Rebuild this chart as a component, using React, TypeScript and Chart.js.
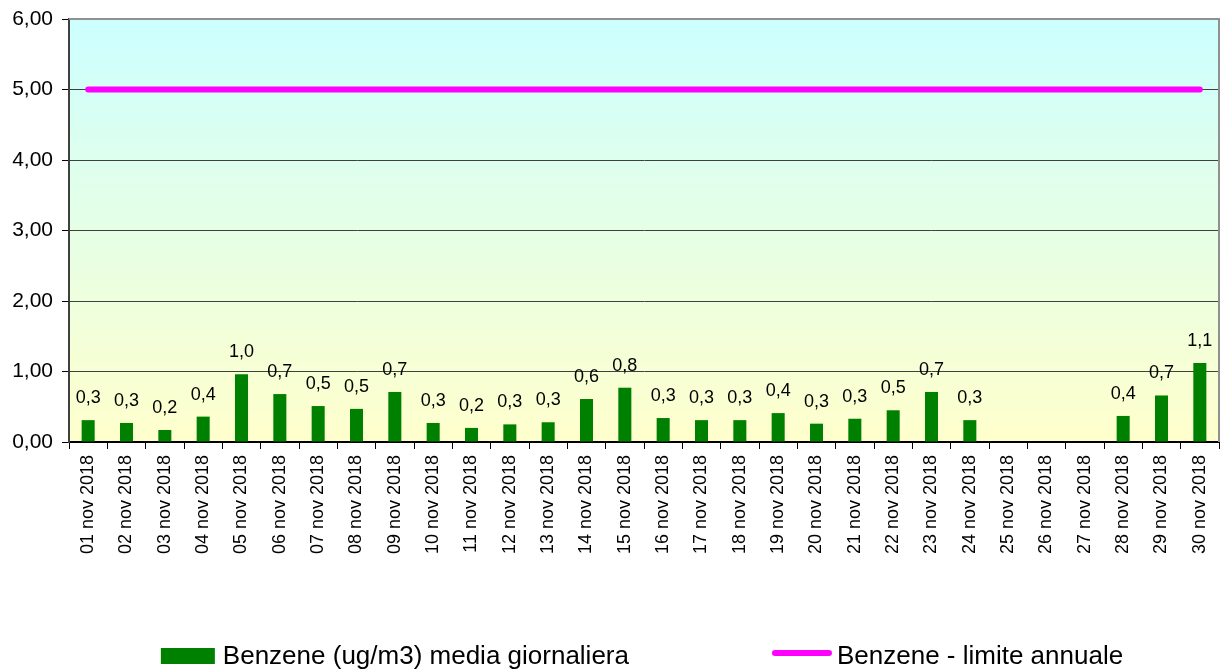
import React, { useEffect, useRef } from "react";
import { Chart, registerables } from "chart.js";

Chart.register(...registerables);

const categories: string[] = [
  "01 nov 2018", "02 nov 2018", "03 nov 2018", "04 nov 2018", "05 nov 2018",
  "06 nov 2018", "07 nov 2018", "08 nov 2018", "09 nov 2018", "10 nov 2018",
  "11 nov 2018", "12 nov 2018", "13 nov 2018", "14 nov 2018", "15 nov 2018",
  "16 nov 2018", "17 nov 2018", "18 nov 2018", "19 nov 2018", "20 nov 2018",
  "21 nov 2018", "22 nov 2018", "23 nov 2018", "24 nov 2018", "25 nov 2018",
  "26 nov 2018", "27 nov 2018", "28 nov 2018", "29 nov 2018", "30 nov 2018",
];

const benzeneDaily: (number | null)[] = [
  0.31, 0.27, 0.17, 0.36, 0.96, 0.68, 0.51, 0.47, 0.71, 0.27,
  0.2, 0.25, 0.28, 0.61, 0.77, 0.34, 0.31, 0.31, 0.41, 0.26,
  0.33, 0.45, 0.71, 0.31, null, null, null, 0.37, 0.66, 1.12,
];

const annualLimit: number[] = [
  5, 5, 5, 5, 5, 5, 5, 5, 5, 5,
  5, 5, 5, 5, 5, 5, 5, 5, 5, 5,
  5, 5, 5, 5, 5, 5, 5, 5, 5, 5,
];

const seriesNames: string[] = [
  "Benzene (ug/m3) media giornaliera",
  "Benzene - limite annuale",
];

const yTicks: number[] = [0, 1, 2, 3, 4, 5, 6];

const FONT = "'Liberation Sans', Arial, sans-serif";
const GREEN = "#008000";
const MAGENTA = "#FF00FF";

const fmt = (v: number, d: number) =>
  (Math.round(v * Math.pow(10, d)) / Math.pow(10, d)).toFixed(d).replace(".", ",");

const bgPlugin = {
  id: "plotBg",
  beforeDraw(chart: any) {
    const { ctx, chartArea } = chart;
    if (!chartArea) return;
    const g = ctx.createLinearGradient(0, chartArea.top, 0, chartArea.bottom);
    g.addColorStop(0, "#CCFFFF");
    g.addColorStop(1, "#FFFFCC");
    ctx.save();
    ctx.fillStyle = g;
    ctx.fillRect(chartArea.left, chartArea.top, chartArea.right - chartArea.left, chartArea.bottom - chartArea.top);
    ctx.restore();
  },
  afterDraw(chart: any) {
    const { ctx, chartArea } = chart;
    ctx.save();
    ctx.strokeStyle = "#909090";
    ctx.lineWidth = 2;
    ctx.beginPath();
    ctx.moveTo(chartArea.left, chartArea.top);
    ctx.lineTo(chartArea.right, chartArea.top);
    ctx.lineTo(chartArea.right, chartArea.bottom);
    ctx.stroke();
    ctx.restore();
  },
};

const labelPlugin = {
  id: "barLabels",
  afterDatasetsDraw(chart: any) {
    const { ctx } = chart;
    const meta = chart.getDatasetMeta(0);
    ctx.save();
    ctx.font = `18px ${FONT}`;
    ctx.fillStyle = "#000";
    ctx.textAlign = "center";
    ctx.textBaseline = "middle";
    meta.data.forEach((el: any, i: number) => {
      const v = benzeneDaily[i];
      if (v === null || v === undefined) return;
      ctx.fillText(fmt(v, 1), el.x, el.y - 22);
    });
    ctx.restore();
  },
};

const legendPlugin = {
  id: "customLegend",
  afterDraw(chart: any) {
    const { ctx, chartArea } = chart;
    const center = (chartArea.left + chartArea.right) / 2 - 2;
    ctx.save();
    ctx.font = `26px ${FONT}`;
    const w1 = ctx.measureText(seriesNames[0]).width;
    const w2 = ctx.measureText(seriesNames[1]).width;
    const box = 54;
    const gap1 = 8;
    const gap2 = 5;
    const gapItems = 143;
    const lineW = 60;
    const total = box + gap1 + w1 + gapItems + lineW + gap2 + w2;
    let x = center - total / 2;
    const yc = 656;
    ctx.fillStyle = GREEN;
    ctx.fillRect(x, yc - 8, box, 16);
    x += box + gap1;
    ctx.fillStyle = "#000";
    ctx.textBaseline = "middle";
    ctx.textAlign = "left";
    ctx.fillText(seriesNames[0], x, yc + 1);
    x += w1 + gapItems;
    ctx.strokeStyle = MAGENTA;
    ctx.lineWidth = 6;
    ctx.lineCap = "round";
    ctx.beginPath();
    ctx.moveTo(x + 3, yc - 3);
    ctx.lineTo(x + lineW - 3, yc - 3);
    ctx.stroke();
    x += lineW + gap2;
    ctx.fillText(seriesNames[1], x, yc + 1);
    ctx.restore();
  },
};

export default function App() {
  const ref = useRef<HTMLCanvasElement | null>(null);
  useEffect(() => {
    if (!ref.current) return;
    const chart = new Chart(ref.current, {
      type: "bar",
      data: {
        labels: categories,
        datasets: [
          {
            type: "bar",
            label: seriesNames[0],
            data: benzeneDaily,
            backgroundColor: GREEN,
            borderWidth: 0,
            categoryPercentage: 1,
            barPercentage: 0.34,
            order: 2,
          },
          {
            type: "line",
            label: seriesNames[1],
            data: annualLimit,
            borderColor: MAGENTA,
            backgroundColor: MAGENTA,
            borderWidth: 6,
            borderCapStyle: "round",
            pointRadius: 0,
            fill: false,
            order: 1,
          } as any,
        ],
      },
      options: {
        responsive: true,
        maintainAspectRatio: false,
        animation: false,
        layout: { padding: { top: 19, right: 1, left: 0, bottom: 0 } },
        plugins: {
          legend: { display: false },
          tooltip: { enabled: false },
        },
        scales: {
          x: {
            offset: true,
            grid: {
              display: true,
              offset: true,
              drawOnChartArea: false,
              color: "#000",
              tickLength: 7,
            },
            border: { color: "#000", width: 2 },
            ticks: {
              minRotation: 90,
              maxRotation: 90,
              autoSkip: false,
              color: "#000",
              padding: 6,
              font: { family: FONT, size: 18 },
            },
            afterFit(scale: any) {
              scale.height = 228;
              scale.paddingLeft = 0;
              scale.paddingRight = 0;
            },
          },
          y: {
            min: 0,
            max: 6,
            afterBuildTicks(scale: any) {
              scale.ticks = yTicks.map((v) => ({ value: v }));
            },
            grid: {
              color: "#404040",
              lineWidth: 1,
              tickLength: 7,
              tickColor: "#000",
            },
            border: { color: "#404040", width: 2 },
            ticks: {
              color: "#000",
              padding: 9,
              font: { family: FONT, size: 21 },
              callback: (v: any) => fmt(Number(v), 2),
            },
            afterFit(scale: any) {
              scale.width = 69;
              scale.paddingTop = 0;
              scale.paddingBottom = 0;
            },
          },
        },
      },
      plugins: [bgPlugin, labelPlugin, legendPlugin],
    });
    return () => chart.destroy();
  }, []);
  return (
    <div style={{ position: "fixed", left: 0, top: 0, width: 1220, height: 670, background: "#fff" }}>
      <canvas ref={ref} />
    </div>
  );
}
